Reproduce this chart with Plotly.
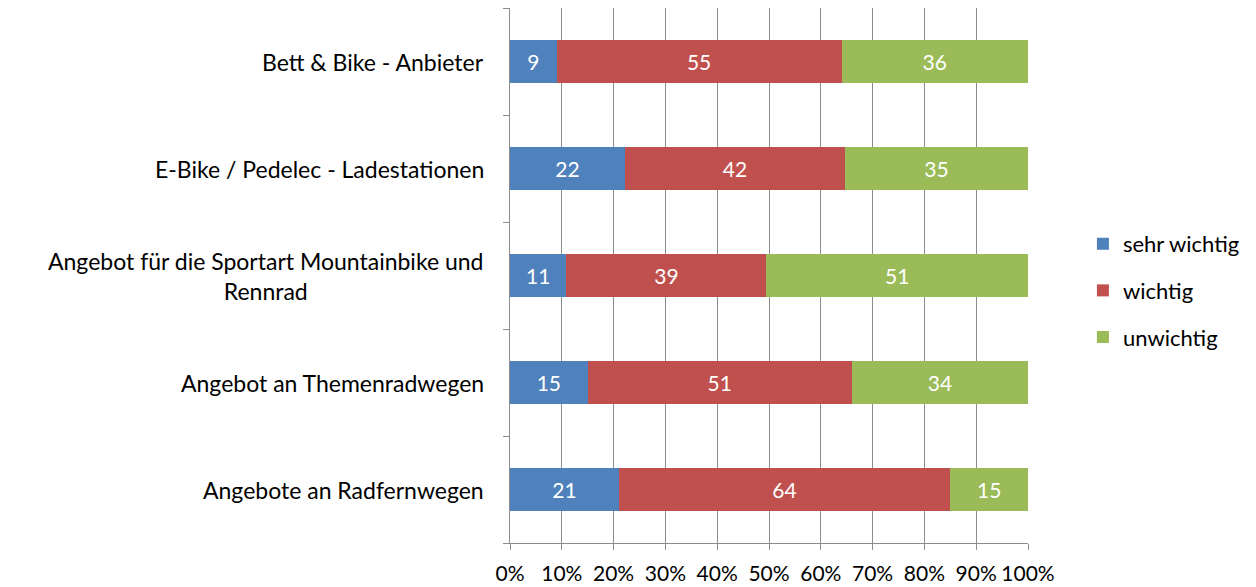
import plotly.graph_objects as go

# Categories, bottom to top as plotly draws them
categories = [
    "Angebote an Radfernwegen",
    "Angebot an Themenradwegen",
    "Angebot für die Sportart Mountainbike und<br>Rennrad",
    "E-Bike / Pedelec - Ladestationen",
    "Bett & Bike - Anbieter",
]
sehr_wichtig = [21, 15, 11, 22, 9]
wichtig = [64, 51, 39, 42, 55]
unwichtig = [15, 34, 51, 35, 36]

x_ticks = [0, 10, 20, 30, 40, 50, 60, 70, 80, 90, 100]
x_ticktext = [f"{v}%" for v in x_ticks]

FONT = "Lato"
series = [
    ("sehr wichtig", sehr_wichtig, "#4F81BD"),
    ("wichtig", wichtig, "#C0504D"),
    ("unwichtig", unwichtig, "#9BBB59"),
]

fig = go.Figure()
for name, vals, color in series:
    fig.add_trace(
        go.Bar(
            y=categories,
            x=vals,
            orientation="h",
            name=name,
            legendgroup=name,
            marker=dict(color=color, line=dict(width=0)),
            text=vals,
            texttemplate="%{text}",
            textposition="inside",
            insidetextanchor="middle",
            textfont=dict(color="white", size=21, family=FONT),
            hoverinfo="skip",
        )
    )

# category labels, centred like the original
annotations = [
    dict(
        x=0,
        y=c,
        xref="paper",
        yref="y",
        text=c,
        showarrow=False,
        xanchor="right",
        xshift=-24,
        align="center",
        font=dict(size=23, family=FONT, color="black"),
    )
    for c in categories
]

# page body adds an 8px margin, so the figure is offset a bit
fig.update_layout(
    barmode="stack",
    barnorm="percent",
    bargap=0.6,
    width=1248,
    height=579,
    margin=dict(l=502, r=228, t=0, b=44, autoexpand=False),
    paper_bgcolor="white",
    plot_bgcolor="white",
    font=dict(family=FONT, size=20, color="black"),
    annotations=annotations,
    legend=dict(
        x=1.106,
        y=0.472,
        xanchor="left",
        yanchor="middle",
        traceorder="grouped",
        tracegroupgap=15,
        font=dict(size=22, family=FONT),
    ),
    xaxis=dict(
        range=[0, 100],
        tickvals=x_ticks,
        ticktext=x_ticktext,
        tickangle=0,
        automargin=False,
        showgrid=True,
        gridcolor="#8C8C8C",
        gridwidth=1,
        zeroline=False,
        showline=True,
        linecolor="#8C8C8C",
        ticks="outside",
        ticklen=6,
        tickcolor="#8C8C8C",
        ticklabelstandoff=6,
        tickfont=dict(size=21, family=FONT),
    ),
    yaxis=dict(
        range=[-0.5, 4.5],
        automargin=False,
        showticklabels=False,
        showgrid=False,
        showline=True,
        linecolor="#8C8C8C",
        ticks="outside",
        tickson="boundaries",
        ticklen=6,
        tickcolor="#8C8C8C",
    ),
)

fig.write_html("out.html")
